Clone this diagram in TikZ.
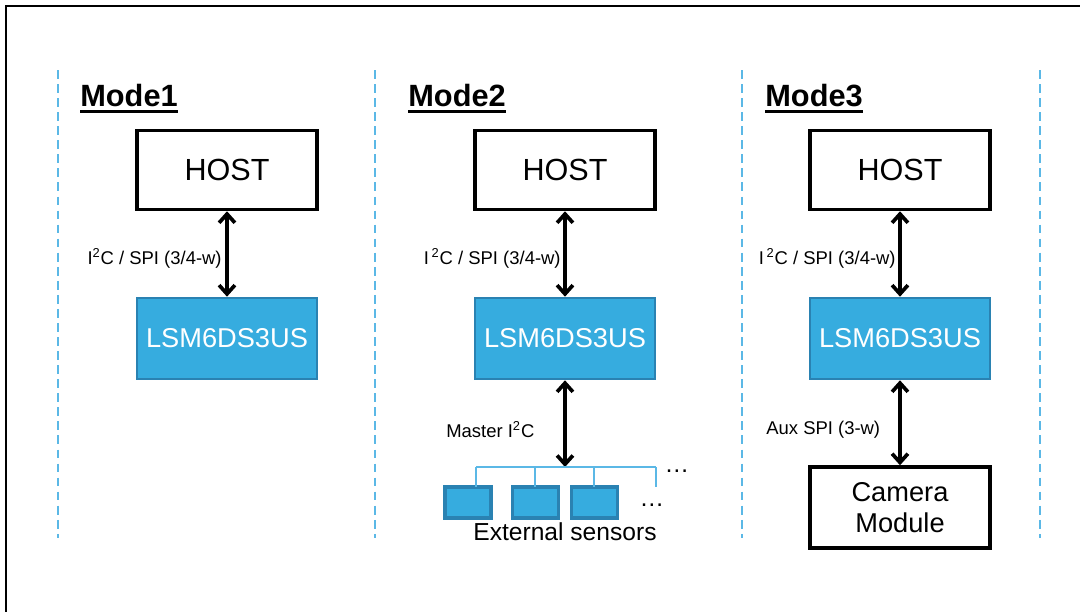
\documentclass[tikz,border=0pt]{standalone}
\usepackage{fontspec}
\setmainfont{Liberation Sans}
\usetikzlibrary{arrows.meta}
\definecolor{stblue}{HTML}{36ACDF}
\definecolor{stedge}{HTML}{2A82B2}
\definecolor{sepblue}{HTML}{5BB8E6}

\begin{document}
\begin{tikzpicture}[x=0.02cm, y=-0.02cm,
    hostbox/.style={rectangle, draw, line width=2pt, minimum width=3.6cm, minimum height=1.58cm, font=\fontsize{17.4}{20}\selectfont},
    chip/.style={rectangle, draw=stedge, line width=1.5pt, fill=stblue, text=white, minimum width=3.6cm, minimum height=1.62cm, font=\fontsize{15.5}{18}\selectfont},
    sensor/.style={rectangle, draw=stedge, line width=2pt, fill=stblue, minimum width=0.92cm, minimum height=0.62cm},
    modetitle/.style={anchor=base west, inner sep=0pt, font=\fontsize{17.5}{20}\selectfont\bfseries},
    buslabel/.style={font=\fontsize{10.5}{12}\selectfont, inner sep=0pt},
    arrow/.style={{Straight Barb[length=5pt, width=9pt]}-{Straight Barb[length=5pt, width=9pt]}, line width=2.1pt},
    busline/.style={draw=sepblue, line width=0.8pt},
    separator/.style={draw=sepblue, line width=0.8pt, dash pattern=on 5pt off 3pt}
]
    \useasboundingbox (0,0) rectangle (1080,612);
    \draw[line width=1.4pt] (6,612) -- (6,6) -- (1080,6);
    \foreach \x in {58,375,742,1040}
        \draw[separator] (\x,70) -- (\x,538);

    % Mode 1
    \node[modetitle] (m1) at (80,106) {Mode1};
    \draw[line width=1.7pt] ([yshift=-3.2pt]m1.base west) -- ([yshift=-3.2pt]m1.base east);
    \node[hostbox] (host1) at (227,170) {HOST};
    \node[chip] (lsm1) at (227,338.5) {LSM6DS3US};
    \draw[arrow] (host1) -- (lsm1);
    \node[buslabel, anchor=east] (lbl1) at (222,258) {I\textsuperscript{2}C / SPI (3/4-w)};

    % Mode 2
    \node[modetitle] (m2) at (408,106) {Mode2};
    \draw[line width=1.7pt] ([yshift=-3.2pt]m2.base west) -- ([yshift=-3.2pt]m2.base east);
    \node[hostbox] (host2) at (565,170) {HOST};
    \node[chip] (lsm2) at (565,338.5) {LSM6DS3US};
    \draw[arrow] (host2) -- (lsm2);
    \node[buslabel, anchor=east] (lbl2) at (561,258) {I\kern1.5pt\textsuperscript{2}C / SPI (3/4-w)};
    \coordinate (bus) at (565,467);
    \draw[arrow] (lsm2) -- (bus);
    \node[buslabel, anchor=west] (lbl3) at (446,430) {Master I\textsuperscript{2}C};
    \node[sensor] (s1) at (468,502.5) {};
    \node[sensor] (s2) at (535.5,502.5) {};
    \node[sensor] (s3) at (594.5,502.5) {};
    \draw[busline] (476,467) -- (656,467);
    \foreach \x in {476,535,594,656}
        \draw[busline] (\x,467) -- (\x,487);
    \node[anchor=base, inner sep=0pt, font=\fontsize{14}{16}\selectfont] (dots1) at (677,472) {…};
    \node[anchor=base, inner sep=0pt, font=\fontsize{14}{16}\selectfont] (dots2) at (652,506) {…};
    \node[font=\fontsize{14}{16}\selectfont, inner sep=0pt] (ext) at (565,532) {External sensors};

    % Mode 3
    \node[modetitle] (m3) at (765,106) {Mode3};
    \draw[line width=1.7pt] ([yshift=-3.2pt]m3.base west) -- ([yshift=-3.2pt]m3.base east);
    \node[hostbox] (host3) at (900,170) {HOST};
    \node[chip] (lsm3) at (900,338.5) {LSM6DS3US};
    \draw[arrow] (host3) -- (lsm3);
    \node[buslabel, anchor=east] (lbl4) at (896,258) {I\kern1.5pt\textsuperscript{2}C / SPI (3/4-w)};
    \node[hostbox, minimum height=1.62cm, align=center, font=\fontsize{15.5}{18}\selectfont] (cam) at (900,507.5) {Camera\\Module};
    \draw[arrow] (lsm3) -- (cam);
    \node[buslabel, anchor=west] (lbl5) at (766,430) {Aux SPI (3-w)};
\end{tikzpicture}
\end{document}
